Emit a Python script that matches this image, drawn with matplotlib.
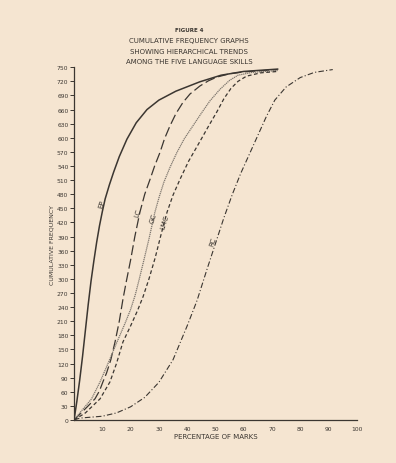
import matplotlib
matplotlib.use("Agg")
import matplotlib.pyplot as plt

# Data (percentage of marks, cumulative frequency)
ep_x = [0, 1, 2, 3, 4, 5, 6, 7, 8, 9, 10, 11, 12.5, 14, 16, 18.7, 22, 25.8, 30, 36, 44.5, 52, 60, 72]
ep_y = [0, 40, 85, 135, 190, 245, 295, 338, 378, 413, 443, 470, 500, 527, 560, 597, 632, 660, 680, 699, 719, 733, 741, 746]

lc_x = [0, 3, 5, 7.4, 9, 10.2, 11.5, 13, 14.5, 16, 17.3, 18.5, 20, 21.5, 23.3, 25, 26.9, 28.5, 30.4, 32,
        33.9, 36, 38.5, 41, 44.5, 47.5, 50.5, 55, 60, 72]
lc_y = [0, 18, 30, 45, 62, 81, 100, 128, 166, 210, 257, 295, 340, 390, 442, 480, 512, 540, 569, 598,
        625, 651, 675, 693, 710, 721, 729, 736, 740, 745]

gc_x = [0, 3, 6.2, 9.2, 12, 15.2, 18, 20, 21.6, 23, 24.5, 26.5, 28.6, 30.2, 31.8, 34, 36.4, 39, 42,
        45, 48, 51.6, 55, 58, 63, 72]
gc_y = [0, 22, 45, 81, 120, 166, 205, 235, 265, 298, 335, 385, 442, 476, 506, 538, 569, 598, 625,
        652, 678, 703, 722, 733, 739, 743]

lmc_x = [0, 4, 9.2, 12.7, 15, 17.3, 20, 22.4, 24.4, 26.5, 28.7, 30.8, 32.9, 35, 37.5, 40.5, 44.5,
         47.5, 50.5, 53, 55.5, 58, 61, 66, 72]
lmc_y = [0, 15, 45, 81, 120, 166, 200, 232, 262, 300, 345, 395, 442, 478, 512, 550, 592,
         624, 655, 683, 705, 720, 731, 738, 741]

rc_x = [0, 2, 6, 10, 15, 20, 25, 30, 35, 40, 43.5, 47, 50, 53, 56, 59, 62, 65, 68, 71, 75, 80, 85, 91.5]
rc_y = [0, 4, 6, 8, 15, 28, 48, 80, 128, 200, 254, 320, 375, 430, 480, 525, 565, 605, 645, 680,
        708, 728, 739, 745]

curve_labels = ["EP", "LC", "GC", "LMC", "RC"]
label_pos = [(9.9, 460), (22.6, 442), (27.9, 431), (32.2, 423), (49.0, 380)]

y_ticks = list(range(0, 751, 30))
x_ticks = list(range(10, 101, 10))

title_lines = ["FIGURE 4", "CUMULATIVE FREQUENCY GRAPHS",
               "SHOWING HIERARCHICAL TRENDS", "AMONG THE FIVE LANGUAGE SKILLS"]

BG = "#f5e5d1"
INK = "#3b3631"

fig = plt.figure(figsize=(3.96, 4.64), dpi=100, facecolor=BG)
ax = fig.add_axes([0.187, 0.0927, 0.714, 0.7603], facecolor=BG)

ax.plot(ep_x, ep_y, color=INK, lw=1.1, ls="-")
ax.plot(lc_x, lc_y, color=INK, lw=0.9, ls=(0, (8, 3)))
ax.plot(gc_x, gc_y, color="#7d766e", lw=0.9, ls=(0, (1, 0.6)))
ax.plot(lmc_x, lmc_y, color=INK, lw=0.9, ls=(0, (3, 2)))
ax.plot(rc_x, rc_y, color=INK, lw=0.8, ls=(0, (5, 2, 1, 2)))

for lab, (lx, ly) in zip(curve_labels, label_pos):
    ax.text(lx, ly, lab, fontsize=5, color=INK, rotation=72,
            ha="center", va="center")

ax.set_xlim(0, 100)
ax.set_ylim(0, 750)
ax.set_yticks(y_ticks)
ax.set_yticklabels([str(v) for v in y_ticks])
ax.set_xticks(x_ticks)
ax.set_xticklabels([str(v) for v in x_ticks])
ax.tick_params(axis="y", labelsize=4.3, colors=INK, length=3, width=0.7, pad=1)
ax.tick_params(axis="x", labelsize=4.3, colors=INK, length=0, pad=4)
for s in ["top", "right"]:
    ax.spines[s].set_visible(False)
for s in ["left", "bottom"]:
    ax.spines[s].set_color(INK)
    ax.spines[s].set_linewidth(0.9)

ax.set_xlabel("PERCENTAGE OF MARKS", fontsize=5, color=INK, labelpad=2)
ax.set_ylabel("CUMULATIVE FREQUENCY", fontsize=4.5, color=INK, labelpad=2)

ys = [0.935, 0.912, 0.888, 0.866]
sizes = [4.0, 5.0, 5.0, 5.0]
for t, y, s in zip(title_lines, ys, sizes):
    fig.text(0.478, y, t, ha="center", va="center", fontsize=s, color=INK,
             fontweight="bold" if t == "FIGURE 4" else "normal")

fig.savefig("out.png", dpi=100, facecolor=BG)
